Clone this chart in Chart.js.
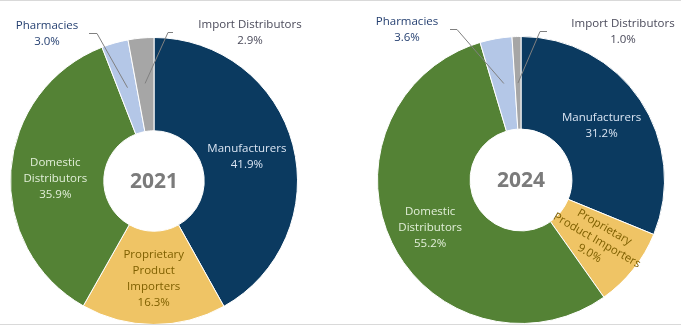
<!DOCTYPE html>
<html>
<head>
<meta charset="utf-8">
<script src="https://cdn.jsdelivr.net/npm/chart.js@4"></script>
<style>
  html, body { margin: 0; padding: 0; background: #fff; }
  #wrap { position: relative; width: 681px; height: 326px; overflow: hidden; background: #fff; }
  #wrap canvas { position: absolute; top: 0; }
  .rule { position: absolute; left: 0; width: 681px; height: 1px; background: #d9d9d9; }
</style>
</head>
<body>
<div id="wrap">
  <div class="rule" style="top:0"></div>
  <canvas id="c2021" width="340" height="326" style="left:0"></canvas>
  <canvas id="c2024" width="341" height="326" style="left:340px"></canvas>
  <div class="rule" style="top:324px"></div>
</div>
<script>
// ---- data ----
const categories = ["Manufacturers", "Proprietary Product Importers", "Domestic Distributors", "Pharmacies", "Import Distributors"];
const years = ["2021", "2024"];
const values2021 = [41.9, 16.3, 35.9, 3.0, 2.9];
const values2024 = [31.2, 9.0, 55.2, 3.6, 1.0];

// ---- style ----
const sliceColors = ["#0b3a60", "#efc465", "#548235", "#b4c7e7", "#a6a6a6"];
const FONT = "'Open Sans', 'Noto Sans', sans-serif";

// label layout per chart (style only)
const labelStyle2021 = [
  { mode: "in", r: 96, dx: 0, dy: 0, lines: ["Manufacturers"], color: "#dbe5f3" },
  { mode: "in", r: 98, dx: 0, dy: 0, lines: ["Proprietary", "Product", "Importers"], color: "#7f6000" },
  { mode: "in", r: 99, dx: 0, dy: 5, lines: ["Domestic", "Distributors"], color: "#e2efd9" },
  { mode: "out", r: 97, elbow: [-57, -148], tail: [-65, -148], pos: [-107, -147], lines: ["Pharmacies"], color: "#243f70" },
  { mode: "out", r: 98, elbow: [14, -149], tail: [19, -149], pos: [96, -148], lines: ["Import Distributors"], color: "#4a4a5a" }
];
const labelStyle2024 = [
  { mode: "in", r: 97, dx: 0, dy: 0, lines: ["Manufacturers"], color: "#dbe5f3" },
  { mode: "in", r: 97, dx: 0, dy: 0, lines: ["Proprietary", "Product Importers"], color: "#7f6000", rot: 30, lh: 15 },
  { mode: "in", r: 101, dx: 0, dy: 4, lines: ["Domestic", "Distributors"], color: "#e2efd9" },
  { mode: "out", r: 98, elbow: [-64, -151], tail: [-71, -151], pos: [-114, -150], lines: ["Pharmacies"], color: "#243f70" },
  { mode: "out", r: 97, elbow: [19, -149], tail: [26, -149], pos: [102, -148], lines: ["Import Distributors"], color: "#4a4a5a" }
];

const labelPlugin = {
  id: "sliceLabels",
  afterDraw(chart) {
    const ctx = chart.ctx;
    const meta = chart.getDatasetMeta(0);
    const vals = chart.data.datasets[0].data;
    const styles = chart.options.plugins.sliceLabels.styles;
    let cx = 0, cy = 0;
    meta.data.forEach((arc, i) => {
      const p = arc.getProps(["x", "y", "startAngle", "endAngle", "outerRadius"], true);
      cx = p.x; cy = p.y;
      const mid = (p.startAngle + p.endAngle) / 2;
      const st = styles[i];
      const lines = st.lines.concat([vals[i].toFixed(1) + "%"]);
      ctx.save();
      ctx.font = "11.5px " + FONT;
      ctx.textAlign = "center";
      ctx.textBaseline = "middle";
      ctx.fillStyle = st.color;
      const lh = st.lh || 16;
      if (st.mode === "in") {
        const ax = p.x + st.r * Math.cos(mid) + st.dx;
        const ay = p.y + st.r * Math.sin(mid) + st.dy;
        ctx.translate(ax, ay);
        if (st.rot) ctx.rotate(st.rot * Math.PI / 180);
        const h = (lines.length - 1) * lh;
        lines.forEach((t, k) => ctx.fillText(t, 0, -h / 2 + k * lh));
      } else {
        ctx.strokeStyle = "#808080";
        ctx.lineWidth = 1;
        ctx.beginPath();
        ctx.moveTo(p.x + st.r * Math.cos(mid), p.y + st.r * Math.sin(mid));
        ctx.lineTo(p.x + st.elbow[0], p.y + st.elbow[1] + 0.5);
        ctx.lineTo(p.x + st.tail[0], p.y + st.tail[1] + 0.5);
        ctx.stroke();
        const h = (lines.length - 1) * lh;
        lines.forEach((t, k) => ctx.fillText(t, p.x + st.pos[0], p.y + st.pos[1] - h / 2 + k * lh));
      }
      ctx.restore();
    });
    // centre year
    ctx.save();
    ctx.font = "bold 21px " + FONT;
    ctx.fillStyle = "#7b7b7b";
    ctx.textAlign = "center";
    ctx.textBaseline = "middle";
    ctx.fillText(chart.options.plugins.sliceLabels.year, cx, cy + 1);
    ctx.restore();
  }
};

function makeChart(id, values, year, padding, cutout, styles) {
  return new Chart(document.getElementById(id), {
    type: "doughnut",
    data: {
      labels: categories,
      datasets: [{
        data: values,
        backgroundColor: sliceColors,
        borderColor: "#ffffff",
        borderWidth: 1
      }]
    },
    options: {
      responsive: false,
      animation: false,
      cutout: cutout,
      layout: { padding: padding },
      plugins: {
        legend: { display: false },
        tooltip: { enabled: false },
        sliceLabels: { styles: styles, year: year }
      }
    },
    plugins: [labelPlugin]
  });
}

makeChart("c2021", values2021, years[0], { left: 10, right: 42, top: 37, bottom: 1 }, "35%", labelStyle2021);
makeChart("c2024", values2024, years[1], { left: 37, right: 16, top: 36, bottom: 2 }, "35.5%", labelStyle2024);
</script>
</body>
</html>
